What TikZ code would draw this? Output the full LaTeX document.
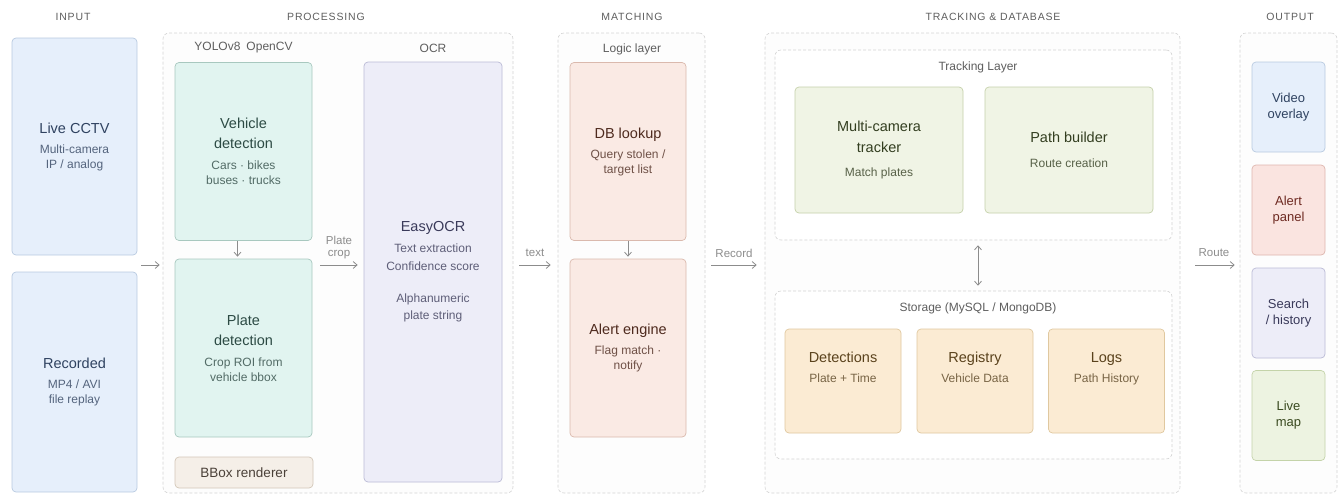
\documentclass[tikz,border=0pt]{standalone}
\usepackage{fontspec}
\setmainfont{Liberation Sans}
\usepackage{xcolor}
\usetikzlibrary{
    arrows.meta,
    positioning,
    calc
}

\definecolor{inbg}{HTML}{E6EFFB}\definecolor{inln}{HTML}{B8CAE0}\definecolor{intx}{HTML}{2F4260}
\definecolor{prbg}{HTML}{E1F4F0}\definecolor{prln}{HTML}{A8C8BF}\definecolor{prtx}{HTML}{2C4A44}
\definecolor{bbbg}{HTML}{F5EFE8}\definecolor{bbln}{HTML}{D3C7B8}\definecolor{bbtx}{HTML}{4A4038}
\definecolor{ocbg}{HTML}{EDEDF8}\definecolor{ocln}{HTML}{BBBBD6}\definecolor{octx}{HTML}{3A3A5A}
\definecolor{mabg}{HTML}{FAEAE4}\definecolor{maln}{HTML}{DAB9AD}\definecolor{matx}{HTML}{4E2A1E}
\definecolor{trbg}{HTML}{F0F4E5}\definecolor{trln}{HTML}{C5D1AA}\definecolor{trtx}{HTML}{333E20}
\definecolor{stbg}{HTML}{FBEBD3}\definecolor{stln}{HTML}{E0C89F}\definecolor{sttx}{HTML}{5A421C}
\definecolor{rdbg}{HTML}{FAE4E0}\definecolor{rdln}{HTML}{DEB6AE}\definecolor{rdtx}{HTML}{6E2A22}
\definecolor{gnbg}{HTML}{EDF3E1}\definecolor{gnln}{HTML}{C4D3A9}\definecolor{gntx}{HTML}{3A4A20}
\definecolor{grpln}{HTML}{D4D4D4}\definecolor{grpbg}{HTML}{FDFDFD}
\definecolor{hdtx}{HTML}{5E5E5E}\definecolor{arrc}{HTML}{8C8C8C}

\newcommand{\ttl}{\fontsize{14.5}{15}\selectfont}
\newcommand{\sbt}[1]{{\color{.!82!white}#1}}
\newcommand{\hdrfont}{\fontsize{10.5}{12}\selectfont\addfontfeature{LetterSpace=8}}

\begin{document}
\begin{tikzpicture}[x=1pt,y=-1pt,
    box/.style={draw,rounded corners=4pt,line width=0.7pt,align=center,inner sep=2pt,font=\fontsize{12}{15}\selectfont},
    inbox/.style={box,fill=inbg,draw=inln,text=intx,minimum width=125pt},
    prbox/.style={box,fill=prbg,draw=prln,text=prtx,minimum width=137pt,minimum height=178pt},
    mabox/.style={box,fill=mabg,draw=maln,text=matx,minimum width=116pt,minimum height=178pt},
    trbox/.style={box,fill=trbg,draw=trln,text=trtx,minimum width=168pt,minimum height=126pt},
    stbox/.style={box,fill=stbg,draw=stln,text=sttx,minimum width=116pt,minimum height=104pt},
    outbox/.style={box,minimum width=73pt,minimum height=90pt,font=\fontsize{13}{16}\selectfont},
    outblue/.style={outbox,fill=inbg,draw=inln,text=intx},
    outred/.style={outbox,fill=rdbg,draw=rdln,text=rdtx},
    outlav/.style={outbox,fill=ocbg,draw=ocln,text=octx},
    outgreen/.style={outbox,fill=gnbg,draw=gnln,text=gntx},
    grp/.style={draw=grpln,fill=grpbg,dash pattern=on 3pt off 2pt,rounded corners=6pt,line width=0.6pt,inner sep=0pt,minimum height=460pt},
    lay/.style={draw=grpln,fill=white,dash pattern=on 3pt off 2pt,rounded corners=6pt,line width=0.6pt,inner sep=0pt,minimum width=397pt},
    hdr/.style={text=hdtx,font=\hdrfont},
    tag/.style={text=hdtx,font=\fontsize{12}{14}\selectfont},
    arr/.style={draw=arrc,line width=0.8pt,-{Straight Barb[length=4pt,width=7pt]}},
    arrlbl/.style={text=arrc,font=\fontsize{11.5}{12}\selectfont,align=center}
]
\useasboundingbox (0,0) rectangle (1339,496);

\node[grp,minimum width=350pt] (grpproc) at (338,263) {};
\node[grp,minimum width=147pt] (grpmatch) at (631.5,263) {};
\node[grp,minimum width=415pt] (grptrack) at (972.5,263) {};
\node[grp,minimum width=97pt] (grpout) at (1288.5,263) {};
\node[lay,minimum height=190pt] (laytrack) at (973.5,145) {};
\node[lay,minimum height=168pt] (laystore) at (973.5,375) {};

\node[hdr] (hin) at (73,17) {INPUT};
\node[hdr] (hproc) at (326,17) {PROCESSING};
\node[hdr] (hmatch) at (632,17) {MATCHING};
\node[hdr] (htrack) at (993,17) {TRACKING \& DATABASE};
\node[hdr] (hout) at (1290,17) {OUTPUT};

\node[tag] (tyolo) at (243.5,48) {YOLOv8\enspace OpenCV};
\node[tag] (tocr) at (433,48) {OCR};
\node[tag] (tlogic) at (632,49) {Logic layer};
\node[tag] (ttrack) at (978,67) {Tracking Layer};
\node[tag] (tstore) at (978,308) {Storage (MySQL / MongoDB)};

\node[inbox,minimum height=217pt] (live) at (74.5,146.5) {{\ttl Live CCTV}\\[5pt]\sbt{Multi-camera}\\\sbt{IP / analog}};
\node[inbox,minimum height=220pt] (rec) at (74.5,382) {{\ttl Recorded}\\[5pt]\sbt{MP4 / AVI}\\\sbt{file replay}};

\node[prbox] (veh) at (243.5,151.5) {{\ttl Vehicle}\\[5pt]{\ttl detection}\\[6pt]\sbt{Cars · bikes}\\\sbt{buses · trucks}};
\node[prbox] (plate) at (243.5,348) {{\ttl Plate}\\[5pt]{\ttl detection}\\[6pt]\sbt{Crop ROI from}\\\sbt{vehicle bbox}};
\node[box,fill=bbbg,draw=bbln,text=bbtx,minimum width=138pt,minimum height=31pt,font=\fontsize{13.5}{15}\selectfont] (bbox) at (244,472.5) {BBox renderer};
\node[box,fill=ocbg,draw=ocln,text=octx,minimum width=138pt,minimum height=420pt] (ocr) at (433,272) {{\ttl EasyOCR}\\[6pt]\sbt{Text extraction}\\[3pt]\sbt{Confidence score}\\[17pt]\sbt{Alphanumeric}\\[2pt]\sbt{plate string}};

\node[mabox] (db) at (628,151.5) {{\ttl DB lookup}\\[5pt]\sbt{Query stolen /}\\\sbt{target list}};
\node[mabox] (alert) at (628,348) {{\ttl Alert engine}\\[5pt]\sbt{Flag match ·}\\\sbt{notify}};

\node[trbox] (mct) at (879,150) {{\ttl Multi-camera}\\[6pt]{\ttl tracker}\\[9pt]\sbt{Match plates}};
\node[trbox] (path) at (1069,150) {{\ttl Path builder}\\[10pt]\sbt{Route creation}};

\foreach \n/\x/\ti/\su in {det/843/Detections/Plate + Time, reg/975/Registry/Vehicle Data, logs/1106.5/Logs/Path History}
    \node[stbox] (\n) at (\x,381) {{\ttl \ti}\\[5pt]\sbt{\su}\\[12pt]};

\foreach \n/\y/\ti/\st in {video/107/{Video\\overlay}/outblue, alertp/210/{Alert\\panel}/outred, search/313/{Search\\/ history}/outlav, livemap/415.5/{Live\\map}/outgreen}
    \node[\st] (\n) at (1288.5,\y) {\ti};

\coordinate (inexit) at (141,265);
\draw[arr] (inexit) -- ([xshift=-3pt]grpproc.west |- inexit);
\draw[arr,shorten >=2pt] ([xshift=-6pt]veh.south) -- ([xshift=-6pt]plate.north);
\draw[arr] ([xshift=8pt]plate.east |- inexit) -- ([xshift=-6pt]ocr.west |- inexit);
\draw[arr] ([xshift=6pt]grpproc.east |- inexit) -- ([xshift=-7pt]grpmatch.west |- inexit);
\draw[arr,shorten >=2pt] (db) -- (alert);
\draw[arr] ([xshift=6pt]grpmatch.east |- inexit) -- ([xshift=-8pt]grptrack.west |- inexit);
\draw[arr,{Straight Barb[length=4pt,width=7pt]}-{Straight Barb[length=4pt,width=7pt]},shorten <=5pt,shorten >=5pt] ([xshift=4.5pt]laytrack.south) -- ([xshift=4.5pt]laystore.north);
\draw[arr] ([xshift=15pt]grptrack.east |- inexit) -- ([xshift=-5pt]grpout.west |- inexit);

\node[arrlbl] (lcrop) at (339,248) {Plate\\crop};
\node[arrlbl] (ltext) at (535,253) {text};
\node[arrlbl] (lrec) at (734,253) {Record};
\node[arrlbl] (lroute) at (1214,253) {Route};
\end{tikzpicture}
\end{document}
